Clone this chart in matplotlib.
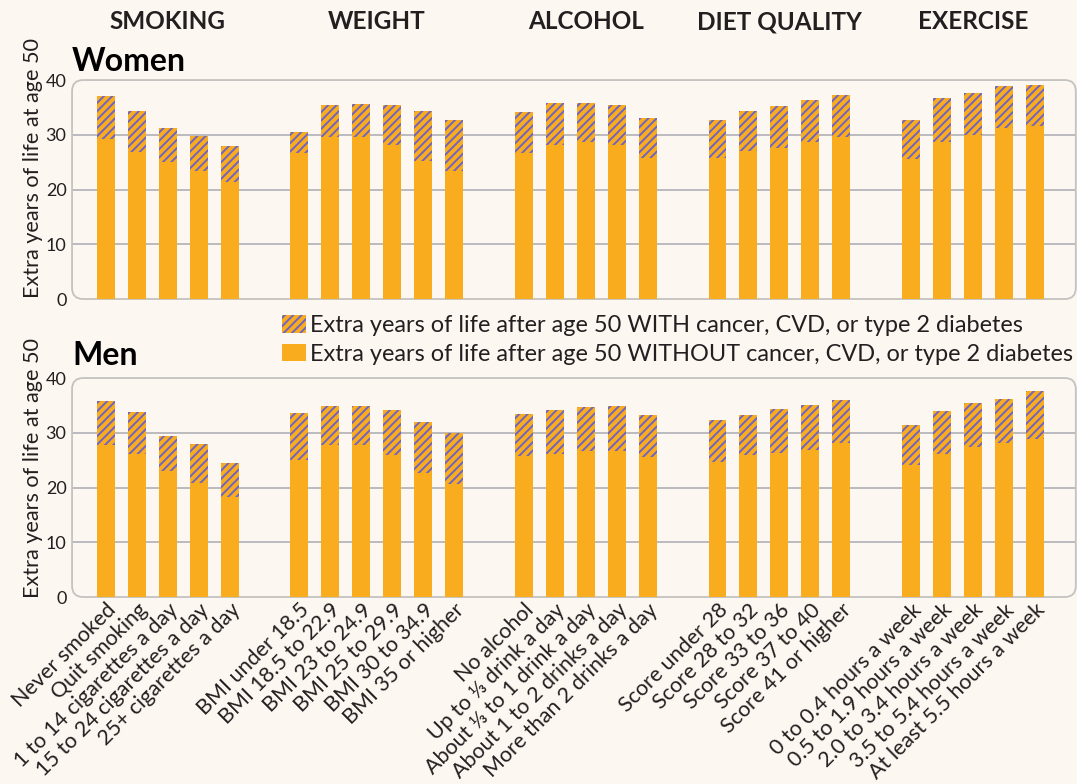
import matplotlib.pyplot as plt
from matplotlib.patches import Patch, FancyBboxPatch
import matplotlib.transforms as mtransforms

plt.rcParams['font.family'] = ['Lato', 'DejaVu Sans']
plt.rcParams['hatch.linewidth'] = 1.4

ORANGE = '#F9AD1E'
HATCH = '#6F63C4'
BG = '#FDF7F1'
TXT = '#231F20'

groups = ['SMOKING', 'WEIGHT', 'ALCOHOL', 'DIET QUALITY', 'EXERCISE']
group_sizes = [5, 6, 5, 5, 5]
labels = [
    'Never smoked', 'Quit smoking', '1 to 14 cigarettes a day',
    '15 to 24 cigarettes a day', '25+ cigarettes a day',
    'BMI under 18.5', 'BMI 18.5 to 22.9', 'BMI 23 to 24.9', 'BMI 25 to 29.9',
    'BMI 30 to 34.9', 'BMI 35 or higher',
    'No alcohol', 'Up to \u2153 drink a day', 'About \u2153 to 1 drink a day',
    'About 1 to 2 drinks a day', 'More than 2 drinks a day',
    'Score under 28', 'Score 28 to 32', 'Score 33 to 36', 'Score 37 to 40',
    'Score 41 or higher',
    '0 to 0.4 hours a week', '0.5 to 1.9 hours a week', '2.0 to 3.4 hours a week',
    '3.5 to 5.4 hours a week', 'At least 5.5 hours a week',
]

# years without disease (solid part) and total extra years (top of hatched part)
women_without = [29.3, 26.9, 25.1, 23.3, 21.4,
                 26.6, 29.6, 29.6, 28.2, 25.2, 23.4,
                 26.6, 28.1, 28.6, 28.2, 25.8,
                 25.8, 27.1, 27.6, 28.7, 29.6,
                 25.5, 28.7, 29.9, 31.2, 31.6]
women_total = [37.0, 34.3, 31.2, 29.7, 27.9,
               30.6, 35.4, 35.7, 35.5, 34.3, 32.7,
               34.1, 35.8, 35.8, 35.4, 33.0,
               32.7, 34.3, 35.2, 36.3, 37.2,
               32.7, 36.7, 37.7, 38.9, 39.1]
men_without = [27.7, 26.1, 23.0, 20.8, 18.3,
               25.0, 27.8, 27.7, 26.0, 22.6, 20.6,
               25.8, 26.1, 26.7, 26.7, 25.5,
               24.7, 26.0, 26.3, 26.9, 28.2,
               24.1, 26.1, 27.4, 28.2, 28.8]
men_total = [35.8, 33.8, 29.4, 28.0, 24.4,
             33.6, 34.9, 34.9, 34.2, 31.9, 30.0,
             33.4, 34.2, 34.7, 34.9, 33.3,
             32.4, 33.3, 34.4, 35.1, 36.0,
             31.5, 34.0, 35.4, 36.2, 37.7]

# bar positions: groups separated by a wider gap
gap = 2.25
xpos, centers = [], []
start = 0.0
for n in group_sizes:
    xs = [start + i for i in range(n)]
    xpos += xs
    centers.append((xs[0] + xs[-1]) / 2)
    start = xs[-1] + gap

fig = plt.figure(figsize=(10.77, 7.84), dpi=100, facecolor=BG)
ax_w = fig.add_axes([0.0669, 0.6186, 0.932, 0.2793])
ax_m = fig.add_axes([0.0669, 0.2385, 0.932, 0.2793])


def draw_panel(ax, without, total):
    ax.set_facecolor('none')
    extra = [t - w for t, w in zip(total, without)]
    ax.bar(xpos, without, width=0.58, color=ORANGE, linewidth=0, zorder=3)
    ax.bar(xpos, extra, bottom=without, width=0.58, facecolor=ORANGE,
           edgecolor=HATCH, hatch='////', linewidth=0, zorder=3)
    ax.set_xlim(-1.09, 31.32)
    ax.set_ylim(0, 40)
    ax.set_yticks([0, 10, 20, 30, 40])
    ax.tick_params(axis='y', length=0, pad=4, labelsize=13, labelcolor=TXT)
    for v in [10, 20, 30]:
        ax.axhline(v, color='#A9A9B0', linewidth=1.1, zorder=1)
    for s in ax.spines.values():
        s.set_visible(False)
    bb = ax.get_position()
    wpx = bb.width * fig.get_figwidth()
    hpx = bb.height * fig.get_figheight()
    frame = FancyBboxPatch((0, 0), 1, 1, transform=ax.transAxes,
                           boxstyle='round,pad=0,rounding_size=0.011',
                           mutation_aspect=wpx / hpx, facecolor='none',
                           edgecolor='#C4C2C0', linewidth=1.3, zorder=2,
                           clip_on=False)
    ax.add_patch(frame)


draw_panel(ax_w, women_without, women_total)
draw_panel(ax_m, men_without, men_total)

ax_w.set_xticks([])
ax_m.set_xticks(xpos)
ax_m.set_xticklabels(labels, rotation=45, ha='right', va='top',
                     rotation_mode='anchor', fontsize=15.5, color=TXT)
ax_m.tick_params(axis='x', length=0, pad=2)

# group headers over the bars
trans = mtransforms.blended_transform_factory(ax_w.transData, fig.transFigure)
for c, g in zip(centers, groups):
    ax_w.text(c, 0.972, g, transform=trans, ha='center', va='center',
              fontsize=17.5, fontweight='bold', color=TXT)

fig.text(0.067, 0.921, 'Women', fontsize=23, fontweight='bold', color='black',
         ha='left', va='center')
fig.text(0.067, 0.546, 'Men', fontsize=23, fontweight='bold', color='black',
         ha='left', va='center')

fig.text(0.031, 0.786, 'Extra years of life at age 50', rotation=90,
         ha='center', va='center', fontsize=15.6, color=TXT)
fig.text(0.031, 0.403, 'Extra years of life at age 50', rotation=90,
         ha='center', va='center', fontsize=15.6, color=TXT)

handles = [
    Patch(facecolor=ORANGE, edgecolor=HATCH, hatch='////', linewidth=0,
          label='Extra years of life after age 50 WITH cancer, CVD, or type 2 diabetes'),
    Patch(facecolor=ORANGE, linewidth=0,
          label='Extra years of life after age 50 WITHOUT cancer, CVD, or type 2 diabetes'),
]
fig.legend(handles=handles, loc='upper left', bbox_to_anchor=(0.262, 0.598),
           frameon=False, fontsize=16.9, handlelength=1.0, handleheight=0.75,
           handletextpad=0.2, labelspacing=0.33, borderpad=0, borderaxespad=0,
           labelcolor=TXT)

fig.savefig('out.png', dpi=100, facecolor=BG)
